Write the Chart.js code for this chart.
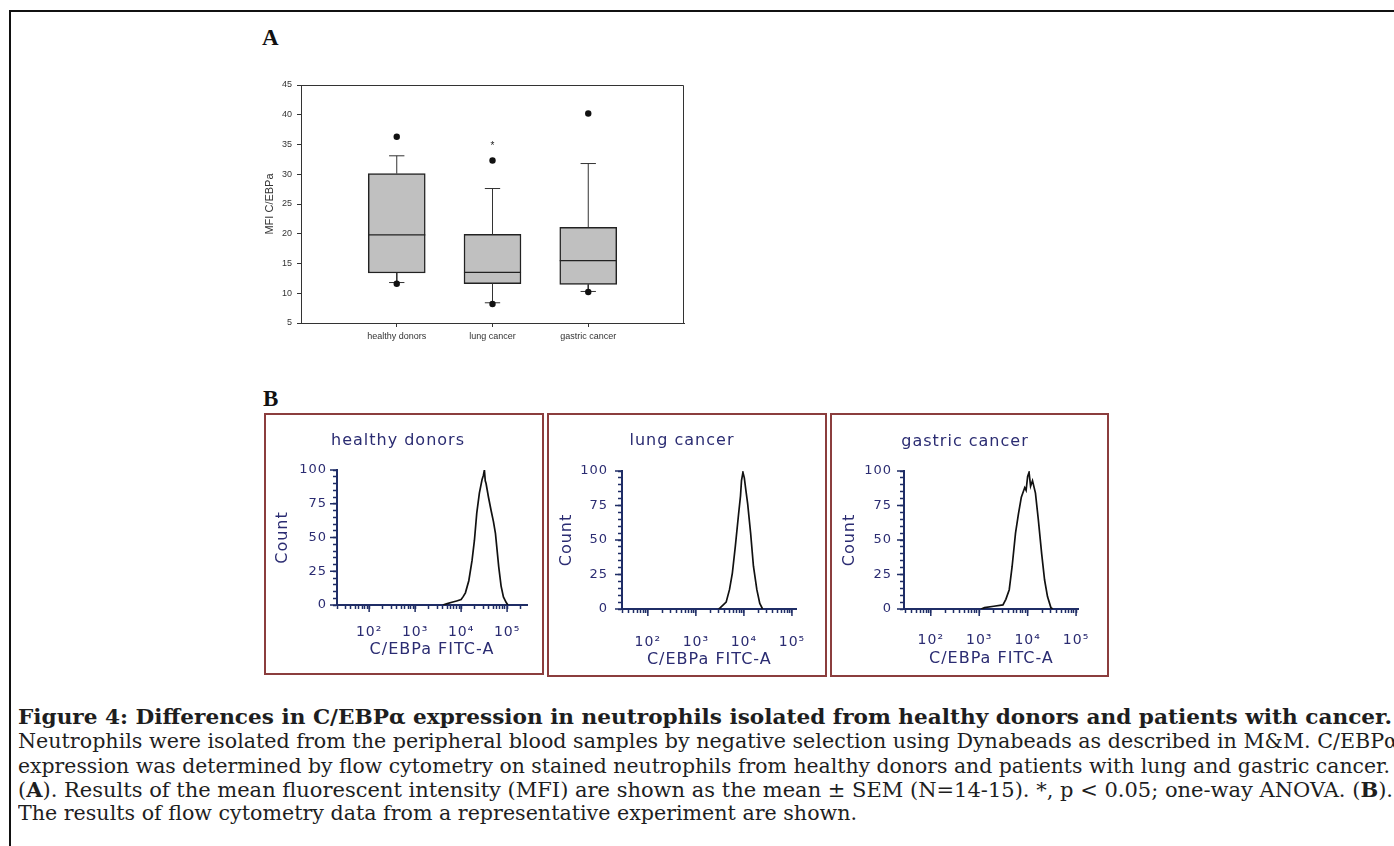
<!DOCTYPE html>
<html>
<head>
<meta charset="utf-8">
<script src="https://cdn.jsdelivr.net/npm/chart.js@4.4.1/dist/chart.umd.min.js"></script>
<style>
  html, body { margin: 0; padding: 0; background: #fff; width: 1394px; height: 846px; overflow: hidden; }
  body { position: relative; }
  #frame { position: absolute; left: 9px; top: 10px; width: 2000px; height: 2000px; border-left: 2px solid #111; border-top: 2px solid #111; }
  .panel-label { position: absolute; font: bold 23px "Liberation Serif", serif; line-height: 23px; color: #111; }
  .hbox { position: absolute; box-sizing: border-box; border: 2px solid #8b3d3d; background: #fff; }
  .hbox canvas { position: absolute; left: 0; top: 0; }
  .htitle { position: absolute; transform: translateX(-50%); font: 16px "DejaVu Sans", sans-serif; line-height: 20px; letter-spacing: 1px; color: #2b2c72; white-space: nowrap; }
  .cap { position: absolute; left: 18px; font: 20.5px "DejaVu Serif", serif; line-height: 24px; color: #1e1e1e; white-space: nowrap; }
  .cap .ln { display: inline-block; transform-origin: 0 0; }
  #boxplot { position: absolute; left: 240px; top: 60px; }
</style>
</head>
<body>
<div id="frame"></div>

<div class="panel-label" style="left:262px; top:26px;">A</div>
<canvas id="boxplot" width="480" height="300"></canvas>

<div class="panel-label" style="left:263px; top:387px;">B</div>
<div class="hbox" style="left:264px; top:413px; width:280px; height:262px;"><canvas id="hist1" width="276" height="258"></canvas></div>
<div class="hbox" style="left:547px; top:413px; width:280px; height:264px;"><canvas id="hist2" width="276" height="260"></canvas></div>
<div class="hbox" style="left:830px; top:413px; width:279px; height:264px;"><canvas id="hist3" width="275" height="260"></canvas></div>
<div class="htitle" style="left:398px; top:430px;">healthy donors</div>
<div class="htitle" style="left:682px; top:430px;">lung cancer</div>
<div class="htitle" style="left:965px; top:431px;">gastric cancer</div>

<div class="cap" style="top:705px;"><span class="ln" data-w="1374"><b>Figure 4: Differences in C/EBPα expression in neutrophils isolated from healthy donors and patients with cancer.</b></span></div>
<div class="cap" style="top:729px;"><span class="ln" data-w="1380">Neutrophils were isolated from the peripheral blood samples by negative selection using Dynabeads as described in M&amp;M. C/EBPα</span></div>
<div class="cap" style="top:754px;"><span class="ln" data-w="1372">expression was determined by flow cytometry on stained neutrophils from healthy donors and patients with lung and gastric cancer.</span></div>
<div class="cap" style="top:778px;"><span class="ln" data-w="1375">(<b>A</b>). Results of the mean fluorescent intensity (MFI) are shown as the mean ± SEM (N=14-15). *, p &lt; 0.05; one-way ANOVA. (<b>B</b>).</span></div>
<div class="cap" style="top:801px;"><span class="ln" data-w="839">The results of flow cytometry data from a representative experiment are shown.</span></div>

<script>
// ---------- panel A: box plot values (MFI C/EBPa) ----------
const groups = ['healthy donors', 'lung cancer', 'gastric cancer'];
const q1 = [13.4, 11.6, 11.5];
const median = [19.8, 13.5, 15.5];
const q3 = [30.1, 19.9, 21.1];
const whiskerLow = [11.8, 8.4, 10.3];
const whiskerHigh = [33.1, 27.6, 31.8];
const outlierLow = [11.6, 8.2, 10.2];
const outlierHigh = [36.3, 32.3, 40.2];
const sigMark = [null, 35.1, null];   // '*' over lung cancer
const mfiTicks = [5, 10, 15, 20, 25, 30, 35, 40, 45];

// ---------- panel B: histograms (C/EBPa FITC-A vs Count) ----------
const fitcMajorTicks = [100, 1000, 10000, 100000];
const fitcTickLabels = ['10²', '10³', '10⁴', '10⁵'];
const countTicks = [0, 25, 50, 75, 100];

const healthyFITC = [4000, 5000, 6300, 8000, 10000, 11000, 12400, 14700, 17300, 19500, 21900, 25000, 28600, 30500, 32100, 33500, 34900, 39300, 44900, 50400, 55800, 65900, 74100, 83200, 95100, 104000];
const healthyCount = [0, 1, 2, 3, 4, 6, 9, 18, 33, 48, 68, 83, 93, 96, 100, 92, 90, 80, 70, 62, 53, 28, 14, 6, 2, 0];

const lungFITC = [3000, 3240, 4270, 5010, 5750, 6610, 7760, 8500, 8910, 9550, 10200, 11000, 12000, 13800, 15800, 18600, 21400, 24500];
const lungCount = [0, 1, 5, 14, 26, 45, 69, 82, 93, 99, 95, 86, 76, 55, 31, 14, 4, 0];

const gastricFITC = [1100, 1290, 2000, 3090, 3550, 4170, 4790, 5620, 6460, 7410, 8710, 9300, 10000, 10700, 11500, 12600, 14500, 16600, 19500, 22400, 25700, 30200, 33000];
const gastricCount = [0, 1, 2, 3, 7, 14, 31, 55, 69, 81, 88, 86, 96, 99, 89, 93, 84, 65, 40, 21, 9, 1, 0];

const NAVY = '#1f2d66';
const NAVY_TEXT = '#2b2c72';
const GREY = '#333';

// fit each caption line to its width in the figure
document.querySelectorAll('.ln').forEach(el => {
    const w = el.getBoundingClientRect().width;
    el.style.transform = `scaleX(${el.dataset.w / w})`;
});

// =====================================================================
// BOX PLOT (A)
// =====================================================================
const BOX_HALF = 0.298;   // half box width in x units (57px)
const CAP_HALF = 0.08;

const whiskerPts = [];
const medianPts = [];
groups.forEach((g, i) => {
    const c = i + 1;
    whiskerPts.push(
        {x: c, y: q3[i]}, {x: c, y: whiskerHigh[i]}, {x: c, y: null},
        {x: c - CAP_HALF, y: whiskerHigh[i]}, {x: c + CAP_HALF, y: whiskerHigh[i]}, {x: c, y: null},
        {x: c, y: q1[i]}, {x: c, y: whiskerLow[i]}, {x: c, y: null},
        {x: c - CAP_HALF, y: whiskerLow[i]}, {x: c + CAP_HALF, y: whiskerLow[i]}, {x: c, y: null}
    );
    medianPts.push({x: c - BOX_HALF, y: median[i]}, {x: c + BOX_HALF, y: median[i]}, {x: c, y: null});
});

const boxFrame = {
    id: 'boxFrame',
    afterDatasetsDraw(chart) {
        const {ctx, chartArea: a, scales: {x, y}} = chart;
        ctx.save();
        ctx.strokeStyle = GREY;
        ctx.lineWidth = 1;
        ctx.beginPath();
        ctx.moveTo(a.left, a.top + 0.5);
        ctx.lineTo(a.right - 0.5, a.top + 0.5);
        ctx.lineTo(a.right - 0.5, a.bottom);
        ctx.stroke();
        ctx.fillStyle = '#222';
        ctx.font = '10px "Liberation Sans"';
        ctx.textAlign = 'center';
        ctx.textBaseline = 'middle';
        sigMark.forEach((v, i) => {
            if (v != null) ctx.fillText('*', x.getPixelForValue(i + 1), y.getPixelForValue(v) + 2);
        });
        ctx.restore();
    }
};

new Chart(document.getElementById('boxplot'), {
    type: 'bar',
    data: {
        datasets: [
            {
                type: 'bar',
                data: groups.map((g, i) => ({x: i + 1, y: [q1[i], q3[i]]})),
                backgroundColor: '#c0c0c0',
                borderColor: '#222',
                borderWidth: 1.5,
                borderSkipped: false,
                barThickness: 57,
                order: 3
            },
            {
                type: 'line',
                data: whiskerPts,
                borderColor: GREY,
                borderWidth: 1,
                pointRadius: 0,
                spanGaps: false,
                order: 1
            },
            {
                type: 'line',
                data: medianPts,
                borderColor: '#222',
                borderWidth: 1.3,
                pointRadius: 0,
                spanGaps: false,
                order: 0
            },
            {
                type: 'scatter',
                data: [...outlierLow.map((v, i) => ({x: i + 1, y: v})), ...outlierHigh.map((v, i) => ({x: i + 1, y: v}))],
                backgroundColor: '#111',
                borderWidth: 0,
                pointRadius: 3.2,
                order: 0
            }
        ]
    },
    options: {
        responsive: false,
        animation: false,
        events: [],
        layout: { padding: { top: 25, right: 36, left: 0, bottom: 0 } },
        plugins: { legend: { display: false }, tooltip: { enabled: false } },
        scales: {
            x: {
                type: 'linear',
                min: 0,
                max: groups.length + 1,
                offset: false,
                afterBuildTicks: s => { s.ticks = groups.map((g, i) => ({value: i + 1})); },
                afterFit: s => { s.height = 37; },
                ticks: {
                    autoSkip: false, maxRotation: 0, padding: 4, color: GREY,
                    font: { family: 'Liberation Sans', size: 9 },
                    callback: v => groups[v - 1]
                },
                grid: { drawOnChartArea: false, offset: false, tickLength: 4, color: GREY },
                border: { color: GREY, width: 1 }
            },
            y: {
                min: mfiTicks[0],
                max: mfiTicks[mfiTicks.length - 1],
                afterBuildTicks: s => { s.ticks = mfiTicks.map(v => ({value: v})); },
                afterFit: s => { s.width = 61; },
                ticks: { autoSkip: false, padding: 5, color: GREY, font: { family: 'Liberation Sans', size: 9 } },
                grid: { drawOnChartArea: false, tickLength: 4, color: GREY },
                border: { color: GREY, width: 1 },
                title: {
                    display: true, text: 'MFI C/EBPa', color: GREY,
                    font: { family: 'Liberation Sans', size: 11 },
                    padding: { top: 23, bottom: 0 }
                }
            }
        }
    },
    plugins: [boxFrame]
});

// =====================================================================
// HISTOGRAMS (B)
// =====================================================================
const letterSpacing = {
    id: 'letterSpacing',
    beforeDraw(chart) { chart.ctx.letterSpacing = '1px'; }
};

const majorTickMarks = {
    id: 'majorTickMarks',
    afterDraw(chart) {
        const {ctx, chartArea: a, scales: {x, y}} = chart;
        ctx.save();
        ctx.strokeStyle = NAVY;
        ctx.lineWidth = 1.5;
        ctx.beginPath();
        fitcMajorTicks.forEach(v => {
            const px = x.getPixelForValue(v);
            if (px >= a.left && px <= a.right) { ctx.moveTo(px, a.bottom); ctx.lineTo(px, a.bottom + 7); }
        });
        countTicks.forEach(v => {
            const py = y.getPixelForValue(v);
            ctx.moveTo(a.left, py); ctx.lineTo(a.left - 7, py);
        });
        ctx.stroke();
        ctx.restore();
    }
};

function histogram(canvasId, fitc, count, lay) {
    const minorX = [];
    for (let d = 1; d <= 5; d++) {
        for (let k = 1; k <= 9; k++) {
            const v = k * 10 ** d;
            if (v >= lay.xMin && v <= lay.xMax) minorX.push(v);
        }
    }
    const minorY = [];
    for (let v = countTicks[0]; v <= countTicks[countTicks.length - 1]; v += 5) minorY.push(v);

    return new Chart(document.getElementById(canvasId), {
        type: 'line',
        data: {
            datasets: [{
                data: fitc.map((x, i) => ({x, y: count[i]})),
                borderColor: '#111',
                borderWidth: 1.7,
                pointRadius: 0,
                tension: 0
            }]
        },
        options: {
            responsive: false,
            animation: false,
            events: [],
            layout: { padding: { top: lay.top, right: lay.right, left: 0, bottom: 0 } },
            plugins: { legend: { display: false }, tooltip: { enabled: false } },
            scales: {
                x: {
                    type: 'logarithmic',
                    min: lay.xMin,
                    max: lay.xMax,
                    afterBuildTicks: s => { s.ticks = minorX.map(v => ({value: v})); },
                    afterFit: s => { s.height = lay.xAxisH; },
                    ticks: {
                        autoSkip: false, maxRotation: 0, padding: lay.xLabelPad, color: NAVY_TEXT,
                        font: { family: 'DejaVu Sans', size: 14 },
                        callback: v => {
                            const i = fitcMajorTicks.indexOf(v);
                            return i < 0 ? '' : fitcTickLabels[i];
                        }
                    },
                    grid: { drawOnChartArea: false, tickLength: 4, tickWidth: 1.5, tickColor: NAVY },
                    border: { color: NAVY, width: 2 },
                    title: {
                        display: true, text: 'C/EBPa FITC-A', color: NAVY_TEXT,
                        font: { family: 'DejaVu Sans', size: 16 },
                        padding: { top: 0, bottom: lay.xTitlePad }
                    }
                },
                y: {
                    min: countTicks[0],
                    max: countTicks[countTicks.length - 1],
                    afterBuildTicks: s => { s.ticks = minorY.map(v => ({value: v})); },
                    afterFit: s => { s.width = lay.left; },
                    ticks: {
                        autoSkip: false, padding: lay.yLabelPad, color: NAVY_TEXT,
                        font: { family: 'DejaVu Sans', size: 13 },
                        callback: v => countTicks.includes(v) ? String(v) : ''
                    },
                    grid: { drawOnChartArea: false, tickLength: 4, tickWidth: 1.5, tickColor: NAVY },
                    border: { color: NAVY, width: 2 },
                    title: {
                        display: true, text: 'Count', color: NAVY_TEXT,
                        font: { family: 'DejaVu Sans', size: 16 },
                        padding: { top: lay.yTitlePad, bottom: 0 }
                    }
                }
            }
        },
        plugins: [letterSpacing, majorTickMarks]
    });
}

histogram('hist1', healthyFITC, healthyCount, {
    xMin: 20, xMax: 271000, left: 71, right: 15, top: 55, xAxisH: 68,
    xLabelPad: 15, yLabelPad: 6, xTitlePad: 14, yTitlePad: 7
});
histogram('hist2', lungFITC, lungCount, {
    xMin: 29, xMax: 125000, left: 73, right: 13, top: 56, xAxisH: 66,
    xLabelPad: 21, yLabelPad: 10, xTitlePad: 6, yTitlePad: 8
});
histogram('hist3', gastricFITC, gastricCount, {
    xMin: 28, xMax: 114000, left: 72, right: 14, top: 56, xAxisH: 66,
    xLabelPad: 19, yLabelPad: 8, xTitlePad: 7, yTitlePad: 8
});
</script>
</body>
</html>
